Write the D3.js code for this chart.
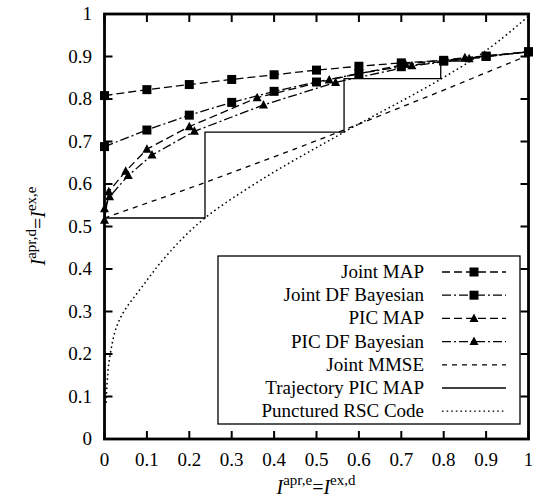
<!DOCTYPE html>
<meta charset="utf-8">
<title>EXIT chart</title>
<body style="margin:0;background:white;"></body>
<script src="https://d3js.org/d3.v7.min.js"></script>
<script>
// series values
const ticks = [0, 0.1, 0.2, 0.3, 0.4, 0.5, 0.6, 0.7, 0.8, 0.9, 1];
const tickLabels = ["0", "0.1", "0.2", "0.3", "0.4", "0.5", "0.6", "0.7", "0.8", "0.9", "1"];

const jointMapX = [0, 0.1, 0.2, 0.3, 0.4, 0.5, 0.6, 0.7, 0.8, 0.9, 1];
const jointMapY = [0.808, 0.822, 0.834, 0.846, 0.857, 0.868, 0.877, 0.885, 0.891, 0.901, 0.911];

const jointDfX = [0, 0.1, 0.2, 0.3, 0.4, 0.5, 0.6, 0.7, 0.8, 0.9, 1];
const jointDfY = [0.688, 0.727, 0.762, 0.792, 0.818, 0.840, 0.860, 0.876, 0.889, 0.900, 0.911];

const picMapX = [0, 0.01, 0.05, 0.1, 0.2, 0.36, 0.53, 0.71, 0.85, 1];
const picMapY = [0.515, 0.582, 0.630, 0.682, 0.735, 0.803, 0.845, 0.882, 0.897, 0.911];

const picDfX = [0, 0.012, 0.056, 0.112, 0.212, 0.375, 0.545, 0.725, 0.86, 1];
const picDfY = [0.542, 0.570, 0.620, 0.668, 0.724, 0.786, 0.839, 0.878, 0.895, 0.911];

const mmseX = [0, 0.1, 0.2, 0.3, 0.4, 0.5, 0.6, 0.7, 0.8, 0.9, 1];
const mmseY = [0.52, 0.555, 0.590, 0.627, 0.664, 0.702, 0.741, 0.781, 0.821, 0.862, 0.903];

const trajX = [0, 0.237, 0.237, 0.565, 0.565, 0.793, 0.793, 0.865, 0.865, 0.885];
const trajY = [0.52, 0.52, 0.722, 0.722, 0.848, 0.848, 0.889, 0.889, 0.897, 0.897];

const rscX = [0.004, 0.006, 0.012, 0.04, 0.09, 0.145, 0.237, 0.37, 0.565, 0.795, 0.875, 1];
const rscY = [0.085, 0.13, 0.19, 0.29, 0.36, 0.43, 0.52, 0.61, 0.722, 0.848, 0.897, 0.995];

const legendNames = ["Joint MAP", "Joint DF Bayesian", "PIC MAP", "PIC DF Bayesian",
  "Joint MMSE", "Trajectory PIC MAP", "Punctured RSC Code"];

const W = 548, H = 500;
const svg = d3.select("body").append("svg")
  .attr("width", W).attr("height", H)
  .style("font-family", "'Liberation Serif', 'DejaVu Serif', serif");

const x = d3.scaleLinear().domain([0, 1]).range([104.5, 528.5]);
const y = d3.scaleLinear().domain([0, 1]).range([439, 14]);

const zip = (xs, ys) => xs.map((v, i) => [v, ys[i]]);

const series = [
  {name: legendNames[0], pts: zip(jointMapX, jointMapY), dash: "8,4", mark: "square", curve: d3.curveLinear},
  {name: legendNames[1], pts: zip(jointDfX, jointDfY), dash: "9,3,2,3", mark: "square", curve: d3.curveLinear},
  {name: legendNames[2], pts: zip(picMapX, picMapY), dash: "8,4", mark: "triangle", curve: d3.curveLinear},
  {name: legendNames[3], pts: zip(picDfX, picDfY), dash: "9,3,2,3", mark: "triangle", curve: d3.curveLinear},
  {name: legendNames[4], pts: zip(mmseX, mmseY), dash: "5,5", mark: null, curve: d3.curveMonotoneX},
  {name: legendNames[5], pts: zip(trajX, trajY), dash: null, mark: null, curve: d3.curveLinear},
  {name: legendNames[6], pts: zip(rscX, rscY), dash: "1.6,3", mark: null, curve: d3.curveMonotoneY}
];

// ticks on all four sides, pointing inward
const tk = 8;
const g = svg.append("g");
ticks.forEach(t => {
  g.append("line").attr("x1", x(t)).attr("x2", x(t)).attr("y1", y(0)).attr("y2", y(0) - tk);
  g.append("line").attr("x1", x(t)).attr("x2", x(t)).attr("y1", y(1)).attr("y2", y(1) + tk);
  g.append("line").attr("y1", y(t)).attr("y2", y(t)).attr("x1", x(0)).attr("x2", x(0) + tk);
  g.append("line").attr("y1", y(t)).attr("y2", y(t)).attr("x1", x(1)).attr("x2", x(1) - tk);
});
g.selectAll("line").attr("stroke", "#000").attr("stroke-width", 2);

svg.selectAll(".xl").data(ticks).join("text")
  .attr("x", d => x(d)).attr("y", 466)
  .attr("text-anchor", "middle").attr("font-size", 19)
  .text((d, i) => tickLabels[i]);
svg.selectAll(".yl").data(ticks).join("text")
  .attr("x", 92).attr("y", d => y(d) + 6)
  .attr("text-anchor", "end").attr("font-size", 19)
  .text((d, i) => tickLabels[i]);

// curves
const line = d3.line().x(d => x(d[0])).y(d => y(d[1]));
series.forEach(s => {
  svg.append("path")
    .attr("d", line.curve(s.curve)(s.pts))
    .attr("fill", "none").attr("stroke", "#000")
    .attr("stroke-width", s.dash === "1.6,3" ? 1.5 : 1.3)
    .attr("stroke-dasharray", s.dash);
});

function marker(sel, kind, cx, cy) {
  if (kind === "square") {
    sel.append("rect").attr("x", cx - 4.5).attr("y", cy - 4.5)
      .attr("width", 9).attr("height", 9).attr("fill", "#000");
  } else if (kind === "triangle") {
    sel.append("path")
      .attr("d", `M${cx},${cy - 5}L${cx + 4.5},${cy + 3.5}L${cx - 4.5},${cy + 3.5}Z`)
      .attr("fill", "#000");
  }
}
series.forEach(s => {
  if (!s.mark) return;
  s.pts.forEach(p => marker(svg, s.mark, x(p[0]), y(p[1])));
});

// frame
svg.append("rect").attr("x", x(0)).attr("y", y(1))
  .attr("width", x(1) - x(0)).attr("height", y(0) - y(1))
  .attr("fill", "none").attr("stroke", "#000").attr("stroke-width", 2.8);

// legend
const lg = svg.append("g");
lg.append("rect").attr("x", 218).attr("y", 256).attr("width", 302).attr("height", 168)
  .attr("fill", "#fff").attr("stroke", "#000").attr("stroke-width", 1.3);
series.forEach((s, i) => {
  const cy = 272 + i * 23.2;
  lg.append("text").attr("x", 424).attr("y", cy + 6)
    .attr("text-anchor", "end").attr("font-size", 19).text(s.name);
  lg.append("line").attr("x1", 442).attr("x2", 506).attr("y1", cy).attr("y2", cy)
    .attr("stroke", "#000").attr("stroke-width", 1.3)
    .attr("stroke-dasharray", s.dash);
  if (s.mark) marker(lg, s.mark, 474, cy);
});

// axis titles
const xt = svg.append("text").attr("x", 316).attr("y", 494)
  .attr("text-anchor", "middle").attr("font-size", 20);
xt.append("tspan").attr("font-style", "italic").text("I");
xt.append("tspan").attr("font-size", 15).attr("dy", -9).text("apr,e");
xt.append("tspan").attr("dy", 9).text("=");
xt.append("tspan").attr("font-style", "italic").text("I");
xt.append("tspan").attr("font-size", 15).attr("dy", -9).text("ex,d");

const yt = svg.append("text").attr("transform", "translate(45,226) rotate(-90)")
  .attr("text-anchor", "middle").attr("font-size", 20);
yt.append("tspan").attr("font-style", "italic").text("I");
yt.append("tspan").attr("font-size", 15).attr("dy", -9).text("apr,d");
yt.append("tspan").attr("dy", 9).text("=");
yt.append("tspan").attr("font-style", "italic").text("I");
yt.append("tspan").attr("font-size", 15).attr("dy", -9).text("ex,e");
</script>
